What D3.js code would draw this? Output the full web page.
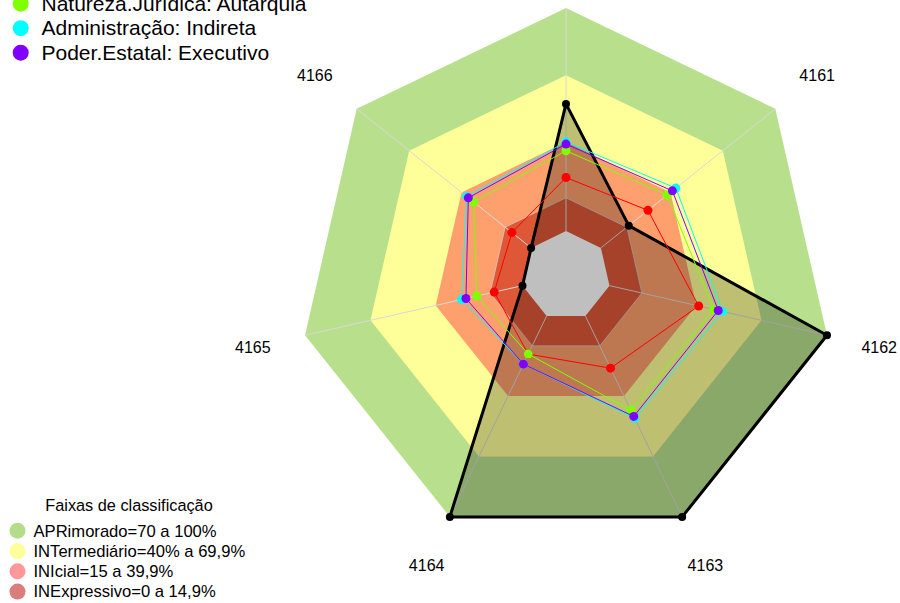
<!DOCTYPE html>
<html>
<head>
<meta charset="utf-8">
<script src="https://cdn.jsdelivr.net/npm/d3@7"></script>
<style>
body { margin: 0; background: #fff; }
svg { display: block; font-family: "Liberation Sans", Arial, sans-serif; }
</style>
</head>
<body>
<svg id="chart" width="900" height="603"></svg>
<script>
// eixos, sentido horário a partir do topo (o rótulo do topo fica fora da imagem)
var axes = ["", "4161", "4162", "4163", "4164", "4165", "4166"];

// faixas de classificação (limite superior de cada faixa, em %)
var bandNames = ["APRimorado=70 a 100%", "INTermediário=40% a 69,9%", "INIcial=15 a 39,9%", "INExpressivo=0 a 14,9%"];
var bandTops = [100, 69.9, 39.9, 14.9, 0];

// séries
var seriesNames = ["Natureza.Jurídica: Autarquia", "Administração: Indireta", "Poder.Estatal: Executivo"];
var orgao    = [57, 16, 100, 100, 100, 0, 0];
var media    = [24, 27, 41, 26, 19, 13, 11];
var natureza = [36, 38, 48, 47, 19, 21, 33];
var admin    = [40, 43, 52, 51, 24, 28, 37];
var poder    = [39, 41, 50, 50, 24, 26, 36];

var svg = d3.select("#chart");
var cx = 566, cy = 275.7, R = 267.7;
var n = axes.length;

var r = d3.scaleLinear().domain([0, 100]).range([R / 6, R]);
var angle = d3.scaleLinear().domain([0, n]).range([0, 2 * Math.PI]);

var radial = d3.lineRadial()
    .angle((d, i) => angle(i))
    .radius(d => r(d))
    .curve(d3.curveLinearClosed);

function px(v, i) { return Math.sin(angle(i)) * r(v); }
function py(v, i) { return -Math.cos(angle(i)) * r(v); }

var g = svg.append("g").attr("transform", "translate(" + cx + "," + cy + ")");

// faixas
var bandFill = ["#b8e08c", "#ffff99", "#fda06d", "#de5838", "#ffffff"];
bandTops.forEach(function(t, k) {
    g.append("path")
        .attr("d", radial(axes.map(() => t)))
        .style("fill", bandFill[k])
        .style("stroke", k == 3 ? "rgba(215,200,200,0.8)" : "none")
        .style("stroke-width", 1);
});

// raios
g.selectAll(".spoke")
    .data(axes)
    .enter()
    .append("line")
    .attr("class", "spoke")
    .attr("x1", (d, i) => px(0, i))
    .attr("y1", (d, i) => py(0, i))
    .attr("x2", (d, i) => px(100, i))
    .attr("y2", (d, i) => py(100, i))
    .style("stroke", "#d9d9d9")
    .style("stroke-width", 1);

// rótulos dos eixos
g.selectAll(".axlabel")
    .data(axes)
    .enter()
    .append("text")
    .attr("class", "axlabel")
    .attr("x", (d, i) => 1.2 * Math.sin(angle(i)) * R)
    .attr("y", (d, i) => -1.2 * Math.cos(angle(i)) * R)
    .attr("text-anchor", "middle")
    .attr("dy", "0.35em")
    .style("font-size", "16px")
    .style("fill", "#000")
    .text(d => d);

// órgão (preto, preenchido)
g.append("path")
    .attr("d", radial(orgao))
    .style("fill", "rgba(0,0,0,0.25)")
    .style("stroke", "#000")
    .style("stroke-width", 3)
    .style("stroke-linejoin", "round");
g.selectAll(".pt-orgao")
    .data(orgao)
    .enter()
    .append("circle")
    .attr("cx", (d, i) => px(d, i))
    .attr("cy", (d, i) => py(d, i))
    .attr("r", 4)
    .style("fill", "#000");

// demais séries
var lines = [media, natureza, admin, poder];
var lineColors = ["#ff0000", "#80ff00", "#00ffff", "#8000ff"];
lines.forEach(function(vals, k) {
    g.append("path")
        .attr("d", radial(vals))
        .style("fill", "none")
        .style("stroke", lineColors[k])
        .style("stroke-width", 1);
    g.selectAll(".pt" + k)
        .data(vals)
        .enter()
        .append("circle")
        .attr("cx", (d, i) => px(d, i))
        .attr("cy", (d, i) => py(d, i))
        .attr("r", 4.5)
        .style("fill", lineColors[k]);
});

// legenda das séries (topo, parcialmente cortada)
var topLegend = svg.append("g");
seriesNames.forEach(function(name, k) {
    var y = 10.5 + 24.5 * k;
    topLegend.append("circle")
        .attr("cx", 20.7)
        .attr("cy", y - 6.8)
        .attr("r", 8)
        .style("fill", lineColors[k + 1]);
    topLegend.append("text")
        .attr("x", 41.5)
        .attr("y", y)
        .style("font-size", "21px")
        .style("fill", "#000")
        .text(name);
});

// legenda das faixas
var bandLegendFill = ["#b5dc8b", "#ffff99", "#ff9999", "#dc7d7d"];
var bottomLegend = svg.append("g");
bottomLegend.append("text")
    .attr("x", 129)
    .attr("y", 511)
    .attr("text-anchor", "middle")
    .style("font-size", "16.3px")
    .style("fill", "#000")
    .text("Faixas de classificação");
bandNames.forEach(function(name, k) {
    var y = 536.5 + 20.3 * k;
    bottomLegend.append("circle")
        .attr("cx", 17.5)
        .attr("cy", y - 5.8)
        .attr("r", 8)
        .style("fill", bandLegendFill[k]);
    bottomLegend.append("text")
        .attr("x", 33.5)
        .attr("y", y)
        .style("font-size", "16.6px")
        .style("fill", "#000")
        .text(name);
});
</script>
</body>
</html>
